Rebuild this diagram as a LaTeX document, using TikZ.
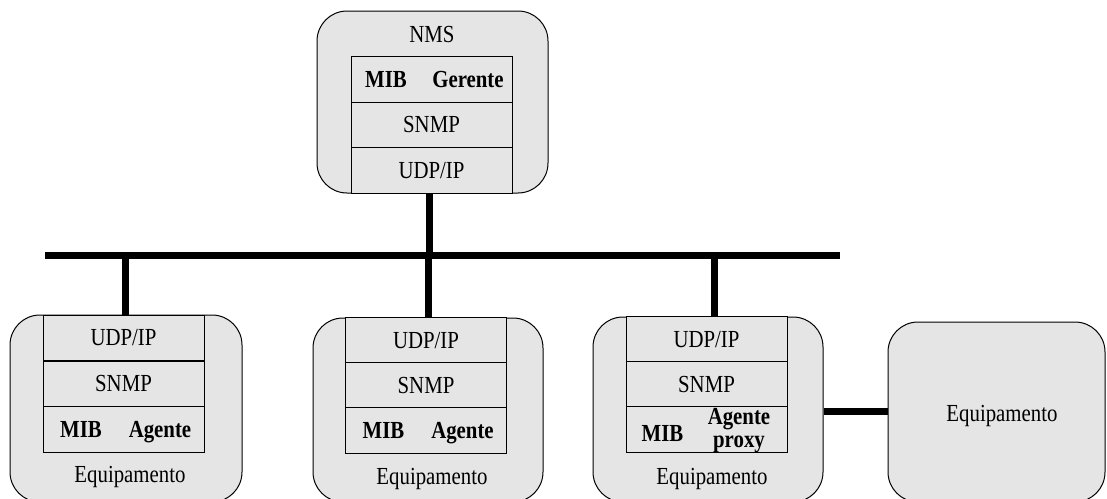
\documentclass[tikz,border=0pt]{standalone}
\usepackage{fontspec}
\setmainfont[FakeStretch=0.85]{Liberation Serif}
\definecolor{boxgray}{RGB}{229,229,229}
\begin{document}
\begin{tikzpicture}[x=1pt,y=-1pt,
  txt/.style={font=\fontsize{24.5}{22}\selectfont},
  btxt/.style={font=\fontsize{24.5}{22}\selectfont\bfseries},
  outer/.style={draw, fill=boxgray, line width=1pt, rounded corners=30pt, inner sep=0pt},
  layer/.style={draw, fill=boxgray, line width=1pt, minimum width=161pt, minimum height=45.5pt,
                inner sep=0pt, text height=15.5pt, text depth=0pt, txt},
  link/.style={line width=7pt}]
\useasboundingbox (0,0) rectangle (1107,498);
\clip (0,0) rectangle (1107,498);

% network bus
\coordinate (busL) at (45,255);
\coordinate (busR) at (840,255);
\draw[link] (busL) -- (busR);

% management station
\node[outer, minimum width=231pt, minimum height=182pt] (nms) at (432.5,102) {};
\node[txt, anchor=base] (nmsT) at (432,42) {NMS};
\node[layer] (nmsA) at (431.5,79.5) {};
\node[btxt, anchor=base] (nmsMIB) at ([shift={(-45.5,7.5)}]nmsA.center) {MIB};
\node[btxt, anchor=base] (nmsGer) at ([shift={(36.5,7.5)}]nmsA.center) {Gerente};
\node[layer] (nmsS) at (431.5,125) {SNMP};
\node[layer] (nmsU) at (431.5,170.5) {UDP/IP};
\draw[link] ([xshift=-2.5]nmsU.south) -- ([xshift=-2.5]nmsU.south |- busL);

% device 1
\node[outer, minimum width=232pt, minimum height=187pt] (e1) at (126,408.5) {};
\node[layer] (e1U) at (123.5,338) {UDP/IP};
\node[layer] (e1S) at (123.5,384) {SNMP};
\node[layer] (e1A) at (123.5,429.5) {};
\node[btxt, anchor=base] (e1MIB) at ([shift={(-42.5,7.5)}]e1A.center) {MIB};
\node[btxt, anchor=base] (e1Ag) at ([shift={(36.5,7.5)}]e1A.center) {Agente};
\node[txt, anchor=base] (e1T) at (130,482) {Equipamento};
\draw[link] ([xshift=1.5]e1U.north) -- ([xshift=1.5]e1U.north |- busL);

% device 2
\node[outer, minimum width=230pt, minimum height=184pt] (e2) at (428,410) {};
\node[layer] (e2U) at (426,340.5) {UDP/IP};
\node[layer] (e2S) at (426,385.5) {SNMP};
\node[layer] (e2A) at (426,430.5) {};
\node[btxt, anchor=base] (e2MIB) at ([shift={(-42.5,7.5)}]e2A.center) {MIB};
\node[btxt, anchor=base] (e2Ag) at ([shift={(36.5,7.5)}]e2A.center) {Agente};
\node[txt, anchor=base] (e2T) at (432,484) {Equipamento};
\draw[link] ([xshift=2.5]e2U.north) -- ([xshift=2.5]e2U.north |- busL);

% device 3 with proxy agent
\node[outer, minimum width=230pt, minimum height=185pt] (e3) at (708,409.5) {};
\node[layer] (e3U) at (706.5,339.5) {UDP/IP};
\node[layer] (e3S) at (706.5,384.5) {SNMP};
\node[layer] (e3A) at (706.5,429.5) {};
\node[btxt, anchor=base] (e3MIB) at ([shift={(-44,11.5)}]e3A.center) {MIB};
\node[btxt, anchor=base, inner sep=0pt] (e3Ag) at ([shift={(32.5,-5.5)}]e3A.center) {Agente};
\node[btxt, anchor=base, inner sep=0pt] (e3Px) at ([shift={(32.5,17.5)}]e3A.center) {proxy};
\node[txt, anchor=base] (e3T) at (712,484) {Equipamento};
\draw[link] ([xshift=8]e3U.north) -- ([xshift=8]e3U.north |- busL);

% proxied device
\node[outer, minimum width=217pt, minimum height=180pt] (e4) at (996.5,412) {};
\node[txt, anchor=base] (e4T) at (1002,421) {Equipamento};
\draw[link] (e3.east |- 0,411) -- (e4.west |- 0,411);
\end{tikzpicture}
\end{document}
